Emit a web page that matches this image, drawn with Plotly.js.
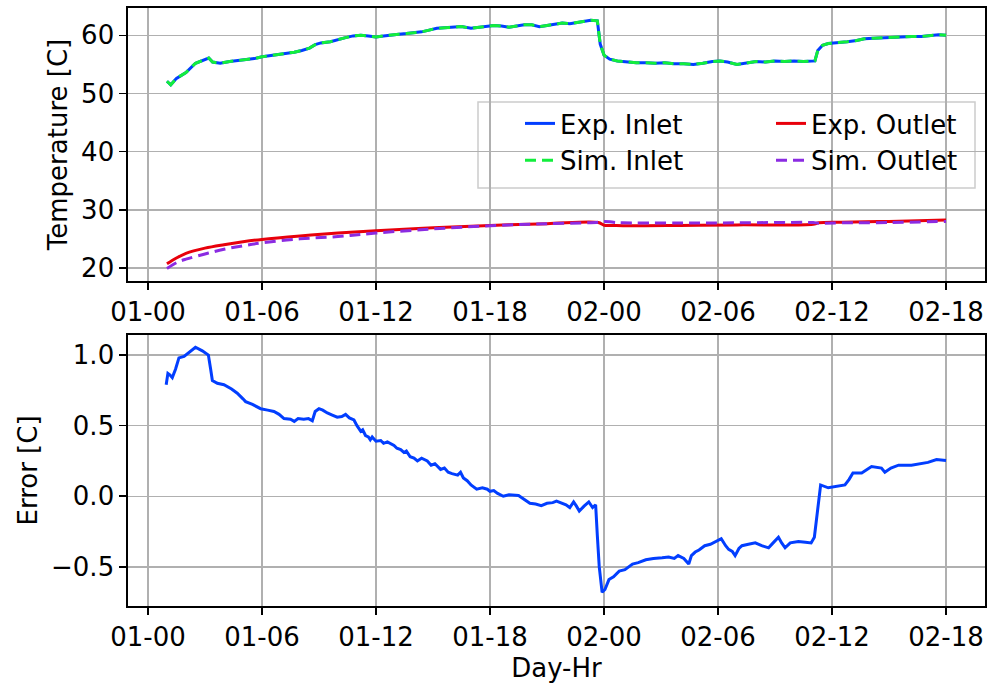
<!DOCTYPE html>
<html>
<head>
<meta charset="utf-8">
<script src="https://cdn.plot.ly/plotly-3.0.1.min.js"></script>
<style>html,body{margin:0;padding:0;background:#fff;}#chart{width:987px;height:683px;}</style>
</head>
<body>
<div id="chart"></div>
<script>
// Hours since day 01, 00:00
const inletHours = [1.0,1.2,1.5,2.0,2.5,2.8,3.2,3.4,3.8,4.3,4.8,5.2,5.6,6.0,6.5,7.0,7.3,7.7,8.1,8.5,8.8,9.1,9.6,10.0,10.4,10.8,11.2,11.6,12.0,12.4,12.8,13.2,13.6,14.0,14.4,14.8,15.2,15.6,16.0,16.5,17.0,17.4,17.8,18.2,18.6,19.0,19.4,19.8,20.2,20.6,21.0,21.4,21.8,22.2,22.6,23.0,23.3,23.65,23.8,24.0,24.3,24.7,25.2,25.7,26.2,26.7,27.2,27.7,28.2,28.7,29.2,29.7,30.1,30.5,31.0,31.5,32.0,32.5,33.0,33.5,34.0,34.5,35.1,35.25,35.5,35.8,36.3,36.8,37.3,37.7,38.2,38.7,39.2,39.7,40.2,40.7,41.2,41.6,42.0];
const expInlet = [52.1,51.5,52.6,53.6,55.2,55.6,56.1,55.4,55.2,55.5,55.7,55.9,56.0,56.3,56.5,56.8,56.9,57.1,57.4,57.8,58.4,58.7,58.9,59.3,59.6,59.9,60.0,59.9,59.7,59.9,60.1,60.2,60.3,60.4,60.6,60.9,61.2,61.3,61.4,61.5,61.2,61.4,61.6,61.7,61.6,61.4,61.6,61.8,61.8,61.5,61.7,61.9,62.1,62.0,62.2,62.4,62.6,62.5,58.5,56.6,55.9,55.6,55.4,55.3,55.3,55.2,55.3,55.1,55.1,55.0,55.2,55.5,55.6,55.4,55.0,55.3,55.5,55.4,55.6,55.5,55.6,55.5,55.6,57.4,58.3,58.6,58.7,58.9,59.1,59.4,59.5,59.6,59.6,59.7,59.8,59.8,59.9,60.1,60.0];
const simInlet = [52.1,51.5,52.6,53.6,55.2,55.6,56.1,55.4,55.2,55.5,55.7,55.9,56.0,56.3,56.5,56.8,56.9,57.1,57.4,57.8,58.4,58.7,58.9,59.3,59.6,59.9,60.0,59.9,59.7,59.9,60.1,60.2,60.3,60.4,60.6,60.9,61.2,61.3,61.4,61.5,61.2,61.4,61.6,61.7,61.6,61.4,61.6,61.8,61.8,61.5,61.7,61.9,62.1,62.0,62.2,62.4,62.6,62.5,58.5,56.6,55.9,55.6,55.4,55.3,55.3,55.2,55.3,55.1,55.1,55.0,55.2,55.5,55.6,55.4,55.0,55.3,55.5,55.4,55.6,55.5,55.6,55.5,55.6,57.4,58.3,58.6,58.7,58.9,59.1,59.4,59.5,59.6,59.6,59.7,59.8,59.8,59.9,60.1,60.0];

const outletHours = [1.0,1.5,2.0,3.0,4.0,5.0,6.0,8.0,10.0,12.0,15.0,18.0,21.0,23.7,24.0,24.5,25.0,28.0,31.0,35.0,35.3,36.5,39.0,42.0];
const expOutlet = [20.7,21.7,22.5,23.4,24.0,24.5,24.9,25.5,26.0,26.4,26.9,27.3,27.6,27.8,27.35,27.3,27.25,27.3,27.4,27.5,27.75,27.85,28.0,28.25];
const simOutlet = [19.9,20.9,21.5,22.4,23.2,23.8,24.3,25.0,25.4,26.0,26.7,27.25,27.6,27.85,28.0,27.85,27.75,27.72,27.75,27.8,27.7,27.75,27.8,28.0];

const errorHours = [0.96,1.05,1.15,1.28,1.45,1.63,1.9,2.2,2.5,2.86,3.18,3.3,3.39,3.65,4.0,4.4,4.7,5.0,5.14,5.5,5.93,6.3,6.63,6.9,7.16,7.5,7.7,7.9,8.2,8.45,8.65,8.8,9.0,9.2,9.44,9.7,9.96,10.2,10.4,10.6,10.84,11.0,11.1,11.2,11.3,11.45,11.6,11.7,11.8,12.0,12.25,12.4,12.6,12.8,12.95,13.1,13.3,13.47,13.6,13.8,14.0,14.18,14.4,14.7,14.9,15.1,15.4,15.6,15.8,16.0,16.3,16.45,16.6,16.8,17.0,17.3,17.6,17.86,18.0,18.2,18.4,18.7,19.0,19.5,19.8,20.1,20.4,20.7,21.0,21.3,21.5,21.8,22.0,22.2,22.4,22.55,22.7,22.95,23.2,23.4,23.56,23.65,23.75,23.9,24.05,24.26,24.5,24.8,25.1,25.5,25.8,26.2,26.6,27.06,27.4,27.7,27.9,28.2,28.46,28.6,28.8,29.0,29.3,29.6,29.9,30.17,30.4,30.56,30.75,30.9,31.1,31.26,31.6,31.96,32.3,32.66,32.9,33.18,33.35,33.53,33.8,34.23,34.6,34.9,35.07,35.15,35.2,35.4,35.8,36.2,36.68,36.9,37.1,37.56,38.08,38.6,38.78,39.1,39.5,40.18,40.6,41.05,41.5,42.0];
const errorVals = [0.79,0.87,0.86,0.84,0.90,0.98,0.99,1.02,1.055,1.03,1.0,0.9,0.82,0.80,0.79,0.76,0.73,0.69,0.67,0.65,0.62,0.61,0.60,0.58,0.55,0.545,0.53,0.55,0.545,0.55,0.535,0.60,0.62,0.61,0.59,0.575,0.56,0.565,0.58,0.555,0.54,0.50,0.48,0.46,0.47,0.43,0.42,0.40,0.42,0.39,0.395,0.375,0.385,0.37,0.36,0.34,0.33,0.31,0.32,0.28,0.27,0.25,0.27,0.25,0.22,0.23,0.19,0.20,0.17,0.16,0.15,0.17,0.13,0.11,0.08,0.05,0.06,0.05,0.035,0.04,0.02,0.0,0.01,0.005,-0.02,-0.05,-0.055,-0.066,-0.05,-0.045,-0.035,-0.05,-0.06,-0.08,-0.04,-0.07,-0.105,-0.07,-0.04,-0.08,-0.06,-0.28,-0.5,-0.68,-0.66,-0.59,-0.57,-0.53,-0.52,-0.48,-0.47,-0.45,-0.44,-0.435,-0.43,-0.44,-0.42,-0.44,-0.48,-0.42,-0.395,-0.38,-0.35,-0.34,-0.32,-0.30,-0.35,-0.376,-0.39,-0.42,-0.37,-0.35,-0.34,-0.33,-0.35,-0.365,-0.33,-0.29,-0.33,-0.365,-0.33,-0.32,-0.325,-0.33,-0.29,-0.20,-0.12,0.08,0.06,0.07,0.08,0.12,0.165,0.165,0.21,0.2,0.17,0.2,0.22,0.22,0.23,0.24,0.26,0.254];

const seriesNames = ['Exp. Inlet','Exp. Outlet','Sim. Inlet','Sim. Outlet'];
const xTitle = 'Day-Hr';
const yTitleTop = 'Temperature [C]';
const yTitleBottom = 'Error [C]';

const base = Date.UTC(2000, 0, 1, 0, 0, 0);
function toDate(h) {
  const d = new Date(base + h * 3600000);
  const p = n => String(n).padStart(2, '0');
  return d.getUTCFullYear() + '-' + p(d.getUTCMonth() + 1) + '-' + p(d.getUTCDate()) + ' ' +
    p(d.getUTCHours()) + ':' + p(d.getUTCMinutes()) + ':' + p(d.getUTCSeconds());
}
const xr = [toDate(-1.05), toDate(44.05)];

const FONT = 'DejaVu Sans, sans-serif';
const FS = 26;
const dashPat = '11px,6px';
const traces = [
  {x: inletHours.map(toDate), y: expInlet, name: seriesNames[0], mode: 'lines', line: {color: '#023eff', width: 3}, xaxis: 'x', yaxis: 'y', legend: 'legend'},
  {x: outletHours.map(toDate), y: expOutlet, name: seriesNames[1], mode: 'lines', line: {color: '#e8000b', width: 3, shape: 'spline'}, xaxis: 'x', yaxis: 'y', legend: 'legend2'},
  {x: inletHours.map(toDate), y: simInlet, name: seriesNames[2], mode: 'lines', line: {color: '#12ee3c', width: 3, dash: dashPat}, xaxis: 'x', yaxis: 'y', legend: 'legend'},
  {x: outletHours.map(toDate), y: simOutlet, name: seriesNames[3], mode: 'lines', line: {color: '#8b2be2', width: 3, dash: dashPat, shape: 'spline'}, xaxis: 'x', yaxis: 'y', legend: 'legend2'},
  {x: errorHours.map(toDate), y: errorVals, name: 'Error', mode: 'lines', line: {color: '#023eff', width: 3}, xaxis: 'x2', yaxis: 'y2', showlegend: false}
];

const axCommon = {
  showline: true, linecolor: '#000', linewidth: 1.6, mirror: true,
  ticks: 'outside', ticklen: 7, tickwidth: 1.6, tickcolor: '#000',
  showgrid: true, gridcolor: '#b0b0b0', gridwidth: 1.5, zeroline: false,
  tickfont: {family: FONT, size: FS, color: '#000'}
};
const xCommon = Object.assign({}, axCommon, {
  type: 'date', range: xr, tick0: toDate(0), dtick: 6 * 3600000, tickformat: '%d-%H'
});

// pixel helpers for legend placement (plot area: x 128..985, y 8..606)
const px = p => (p - 128) / 857;
const py = p => (606 - p) / 598;

const legCommon = {
  orientation: 'v', xanchor: 'left', yanchor: 'top',
  bgcolor: 'rgba(0,0,0,0)', borderwidth: 0,
  font: {family: FONT, size: FS, color: '#000'}, tracegroupgap: 0
};

const layout = {
  width: 987, height: 683,
  margin: {l: 128, r: 2, t: 8, b: 77, autoexpand: false},
  paper_bgcolor: '#fff', plot_bgcolor: '#fff',
  font: {family: FONT, size: FS, color: '#000'},
  showlegend: true,
  legend: Object.assign({}, legCommon, {x: px(520), y: py(100)}),
  legend2: Object.assign({}, legCommon, {x: px(771), y: py(100)}),
  shapes: [{
    type: 'rect', xref: 'paper', yref: 'paper', layer: 'between',
    x0: px(478), x1: px(975), y0: py(188), y1: py(102),
    fillcolor: 'rgba(255,255,255,0.8)', line: {color: '#cccccc', width: 1.5}
  }],
  xaxis: Object.assign({}, xCommon, {anchor: 'y', domain: [0, 1]}),
  yaxis: Object.assign({}, axCommon, {anchor: 'x', domain: [0.5435, 1], range: [17.75, 64.7], tickvals: [20, 30, 40, 50, 60],
    title: {text: yTitleTop, font: {family: FONT, size: FS, color: '#000'}, standoff: 6}}),
  xaxis2: Object.assign({}, xCommon, {anchor: 'y2', domain: [0, 1],
    title: {text: xTitle, font: {family: FONT, size: FS, color: '#000'}, standoff: 8}}),
  yaxis2: Object.assign({}, axCommon, {anchor: 'x2', domain: [0, 0.4532], range: [-0.777, 1.142], tickvals: [-0.5, 0, 0.5, 1.0],
    ticktext: ['\u22120.5', '0.0', '0.5', '1.0'],
    title: {text: yTitleBottom, font: {family: FONT, size: FS, color: '#000'}, standoff: 6}})
};

Plotly.newPlot('chart', traces, layout, {displayModeBar: false, staticPlot: true});
</script>
</body>
</html>
